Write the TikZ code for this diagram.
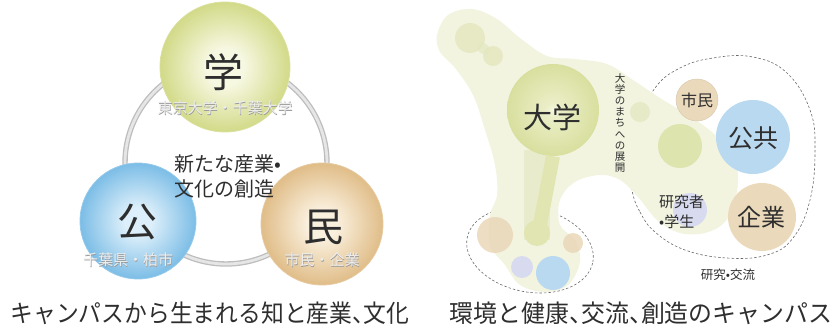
\documentclass[tikz,border=0pt]{standalone}
\usepackage{fontspec}
\setmainfont{Noto Sans CJK JP}
\definecolor{txt}{HTML}{2E2E2E}
\definecolor{subtxt}{HTML}{EDEDED}
\definecolor{subsh}{HTML}{9A9A9A}
\definecolor{gakuIn}{HTML}{F7F8E2}
\definecolor{gakuOut}{HTML}{D2DA88}
\definecolor{kouIn}{HTML}{DCEFFA}
\definecolor{kouOut}{HTML}{7CBDE6}
\definecolor{minIn}{HTML}{FAF0DE}
\definecolor{minOut}{HTML}{E0BD88}
\definecolor{ringC}{HTML}{BDBDBD}
\definecolor{ringIn}{HTML}{E6E6E6}
\definecolor{blobC}{HTML}{F2F4E0}
\definecolor{greenC}{HTML}{D8DF9E}
\definecolor{greenL}{HTML}{E4E8C0}
\definecolor{tanC}{HTML}{EBD9BB}
\definecolor{blueC}{HTML}{B8D9EF}
\definecolor{purpC}{HTML}{D8DAF0}
\definecolor{dashC}{HTML}{6A6A6A}
\pgfdeclareradialshading{gakuS}{\pgfpoint{0bp}{0bp}}{color(0bp)=(gakuIn); color(7bp)=(gakuIn); color(25bp)=(gakuOut); color(50bp)=(gakuOut)}
\pgfdeclareradialshading{kouS}{\pgfpoint{0bp}{0bp}}{color(0bp)=(kouIn); color(6bp)=(kouIn); color(25bp)=(kouOut); color(50bp)=(kouOut)}
\pgfdeclareradialshading{minS}{\pgfpoint{0bp}{0bp}}{color(0bp)=(minIn); color(6bp)=(minIn); color(25bp)=(minOut); color(50bp)=(minOut)}
\pgfdeclareradialshading{daiS}{\pgfpoint{0bp}{0bp}}{color(0bp)=(gakuIn); color(4bp)=(gakuIn!60!greenC); color(25bp)=(greenC); color(50bp)=(greenC)}
\newcommand{\halfcomma}{\makebox[0.5em][l]{、}}
\tikzset{
  ball/.style={circle, inner sep=0pt, minimum size=#1},
  bigchar/.style={font=\fontsize{40}{40}\selectfont, text=txt, inner sep=0pt},
  sublbl/.style={font=\fontsize{15}{15}\selectfont, text=subtxt, inner sep=0pt},
  subshadow/.style={font=\fontsize{15}{15}\selectfont, text=subsh, inner sep=0pt},
  caption/.style={font=\fontsize{24.5}{24.5}\selectfont, text=txt, inner sep=0pt},
  lbl/.style={text=txt, inner sep=0pt},
  dashline/.style={draw=dashC, dashed, dash pattern=on 2.5pt off 2pt, line width=0.6pt},
}
\begin{document}
\begin{tikzpicture}[x=1pt,y=-1pt]
\useasboundingbox (0,0) rectangle (836,329);

% ===== Left diagram =====
\node[ball=202pt, draw=ringC, line width=1.3pt, double=ringIn, double distance=2.8pt] (ring) at (226,163) {};
\node[ball=130pt, shading=gakuS, draw=gakuOut!80!white, line width=0.8pt] (gaku) at (225,67) {};
\node[ball=116pt, shading=kouS, draw=kouOut!80!white, line width=0.8pt] (kou) at (138,221) {};
\node[ball=122pt, shading=minS, draw=minOut!80!white, line width=0.8pt] (min) at (322,224) {};

\node[bigchar] (gakuT) at (223,72) {学};
\node[bigchar] (kouT) at (137,222) {公};
\node[bigchar] (minT) at (323,227) {民};

\node[subshadow] (gakuSh) at (225.7,108.7) {東京大学・千葉大学};
\node[sublbl] (gakuS) at (225,108) {東京大学・千葉大学};
\node[subshadow] (kouSh) at (128.7,260.7) {千葉県・柏市};
\node[sublbl] (kouS) at (128,260) {千葉県・柏市};
\node[subshadow] (minSh) at (322.7,260.7) {市民・企業};
\node[sublbl] (minS) at (322,260) {市民・企業};

\node[lbl, font=\fontsize{20}{25}\selectfont, align=left] (center) at (228,176) {新たな産業•\\文化の創造};

% ===== Right diagram =====
\draw[dashline] plot[smooth cycle, tension=0.7] coordinates {(632,190) (640,212) (655,232) (685,250) (727,258) (767,255) (793,238) (810,200) (815,150) (810,110) (787,73) (753,57) (713,58) (680,68) (655,88) (637,125) (630,160)};
\draw[dashline, rotate around={-11:(530,250)}] (530,250) ellipse [x radius=64pt, y radius=42pt];

% blob
\fill[blobC] plot[smooth cycle, tension=0.6] coordinates {(437,35) (448,15) (472,9) (497,19) (520,38) (547,56) (575,59) (607,64) (633,80) (660,98) (688,115) (712,132) (731,152) (738,175) (735,200) (725,222) (705,233) (680,233) (657,220) (638,197) (620,180) (600,175) (575,182) (560,200) (560,225) (575,240) (580,262) (568,285) (545,292) (520,285) (505,265) (490,245) (490,215) (497,195) (495,165) (485,130) (473,95) (455,68) (440,52)};

% inner faint shapes
\node[ball=30pt, fill=greenL, opacity=0.85] (tl1) at (470,38) {};
\node[ball=20pt, fill=greenL, opacity=0.85] (tl2) at (493,56) {};
\draw[greenL, line width=10pt, line cap=round, opacity=0.7] (tl1) -- (tl2);
\node[ball=20pt, fill=greenL, opacity=0.8] (sm1) at (640,112) {};
\node[coordinate] (stemEnd) at (537,240) {};
\node[ball=44pt, fill=greenC!85!white] (gr) at (680,146) {};
\node[ball=34pt, fill=purpC] (purp) at (690,210) {};
\draw[greenL, line width=26pt, opacity=0.6] (537,150) -- (stemEnd);
\node[ball=92pt, shading=daiS] (dai) at (553,110) {};
\draw[greenC!80!white, line width=14pt] (dai.south) -- (stemEnd);
\node[ball=26pt, fill=greenC!80!white] (grB) at (537,233) {};

% bottom-left cluster
\node[ball=36pt, fill=tanC, opacity=0.9] (tanB1) at (495,235) {};
\node[ball=20pt, fill=tanC, opacity=0.9] (tanB2) at (573,243) {};
\node[ball=22pt, fill=purpC] (purB) at (522,267) {};
\node[ball=34pt, fill=blueC] (bluB) at (553,273) {};

% right cluster circles
\node[ball=42pt, fill=tanC, draw=tanC!80!gray, line width=0.4pt] (shimin) at (697,100) {};
\node[ball=74pt, fill=blueC] (kokyo) at (753,137) {};
\node[ball=68pt, fill=tanC] (kigyo) at (762,217) {};

% labels
\node[lbl, font=\fontsize{29}{29}\selectfont] (daiT) at (552,117) {大学};
\node[lbl, font=\fontsize{16}{16}\selectfont] (shiminT) at (697,100) {市民};
\node[lbl, font=\fontsize{25}{25}\selectfont] (kokyoT) at (753,138) {公共};
\node[lbl, font=\fontsize{24}{24}\selectfont] (kigyoT) at (761,217) {企業};
\node[lbl, font=\fontsize{15}{20}\selectfont, align=left, anchor=west] (kenT) at (659,212) {研究者\\•学生};
\node[lbl, font=\fontsize{12.5}{12.5}\selectfont] (koryuT) at (728,275) {研究•交流};
\node[lbl, font=\fontsize{10.5}{11.1}\selectfont, align=center] (vertT) at (620,123) {大\\学\\の\\ま\\ち\\へ\\の\\展\\開};

% ===== Captions =====
\node[caption] (capL) at (210,313) {\scalebox{0.93}[1]{キャンパスから生まれる知と産業\halfcomma 文化}};
\node[caption] (capR) at (641,313) {\scalebox{0.975}[1]{環境と健康\halfcomma 交流\halfcomma 創造のキャンパス}};
\end{tikzpicture}
\end{document}
